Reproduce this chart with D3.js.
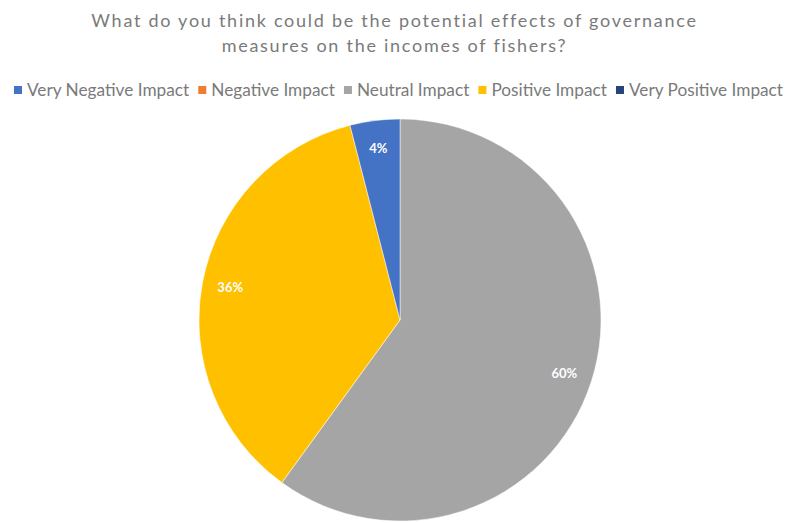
<!DOCTYPE html>
<html>
<head>
<meta charset="utf-8">
<script src="https://cdn.jsdelivr.net/npm/d3@7"></script>
<style>
  html, body { margin: 0; padding: 0; background: #ffffff; }
  svg { display: block; }
</style>
</head>
<body>
<svg id="chart" width="789" height="523"></svg>
<script>
const titleLines = ["What do you think could be the potential effects of governance", "measures on the incomes of fishers?"];
const categories = ["Very Negative Impact", "Negative Impact", "Neutral Impact", "Positive Impact", "Very Positive Impact"];
const values = [0, 0, 60, 36, 4];
const colors = ["#4472C4", "#ED7D31", "#A5A5A5", "#FFC000", "#264478"];
const sliceColors = ["#4472C4", "#ED7D31", "#A5A5A5", "#FFC000", "#4472C4"];

const W = 789, H = 523;
const svg = d3.select("#chart");
const font = "Lato, 'Open Sans', sans-serif";

// Title
const title = svg.append("g").attr("fill", "#7a7a7a").attr("font-family", font).attr("font-size", 18);
const t1 = title.append("text").attr("x", W / 2).attr("y", 27).attr("text-anchor", "middle").text(titleLines[0]);
const w1 = t1.node().getComputedTextLength();
const ls = Math.max(0, (606 - w1) / titleLines[0].length);
t1.attr("letter-spacing", ls);
title.append("text").attr("x", W / 2).attr("y", 52).attr("text-anchor", "middle")
  .attr("letter-spacing", ls).text(titleLines[1]);

// Legend
const legend = svg.append("g").attr("font-family", font).attr("fill", "#7a7a7a");
const items = legend.selectAll("g").data(categories).join("g");
items.append("rect").attr("width", 8).attr("height", 8).attr("y", -4)
  .attr("fill", (d, i) => colors[i]);
const texts = items.append("text").attr("x", 13).attr("dy", "0.35em").attr("font-size", 14).text(d => d);
let totalText = 0;
texts.each(function () { totalText += this.getComputedTextLength(); });
const gapItem = 9, markerSpace = 13, x0 = 14, x1 = 783;
const avail = (x1 - x0) - categories.length * markerSpace - (categories.length - 1) * gapItem;
const lSize = 14 * avail / totalText;
texts.attr("font-size", lSize);
let total2 = 0;
texts.each(function () { total2 += this.getComputedTextLength(); });
const extra = (avail - total2) / (categories.length - 1);
let xPos = x0;
items.each(function () {
  const g = d3.select(this);
  g.attr("transform", `translate(${xPos},90)`);
  xPos += markerSpace + g.select("text").node().getComputedTextLength() + gapItem + extra;
});

// Pie
const cx = 400, cy = 320, R = 201;
const pie = d3.pie().sort(null).value(d => d)(values);
const arc = d3.arc().innerRadius(0).outerRadius(R);
const labelArc = d3.arc().innerRadius(R * 0.86).outerRadius(R * 0.86);
const g = svg.append("g").attr("transform", `translate(${cx},${cy})`);
g.selectAll("path").data(pie).join("path")
  .attr("d", arc)
  .attr("fill", (d, i) => sliceColors[i])
  .attr("stroke", "#ffffff").attr("stroke-width", d => d.data > 0 ? 0.5 : 0);
const total = d3.sum(values);
g.selectAll("text").data(pie.filter(d => d.data > 0)).join("text")
  .attr("transform", d => `translate(${labelArc.centroid(d)})`)
  .attr("text-anchor", "middle").attr("dy", "0.35em")
  .attr("font-family", font).attr("font-size", 13).attr("font-weight", "bold")
  .attr("fill", "#ffffff")
  .text(d => Math.round(d.data / total * 100) + "%");
</script>
</body>
</html>
